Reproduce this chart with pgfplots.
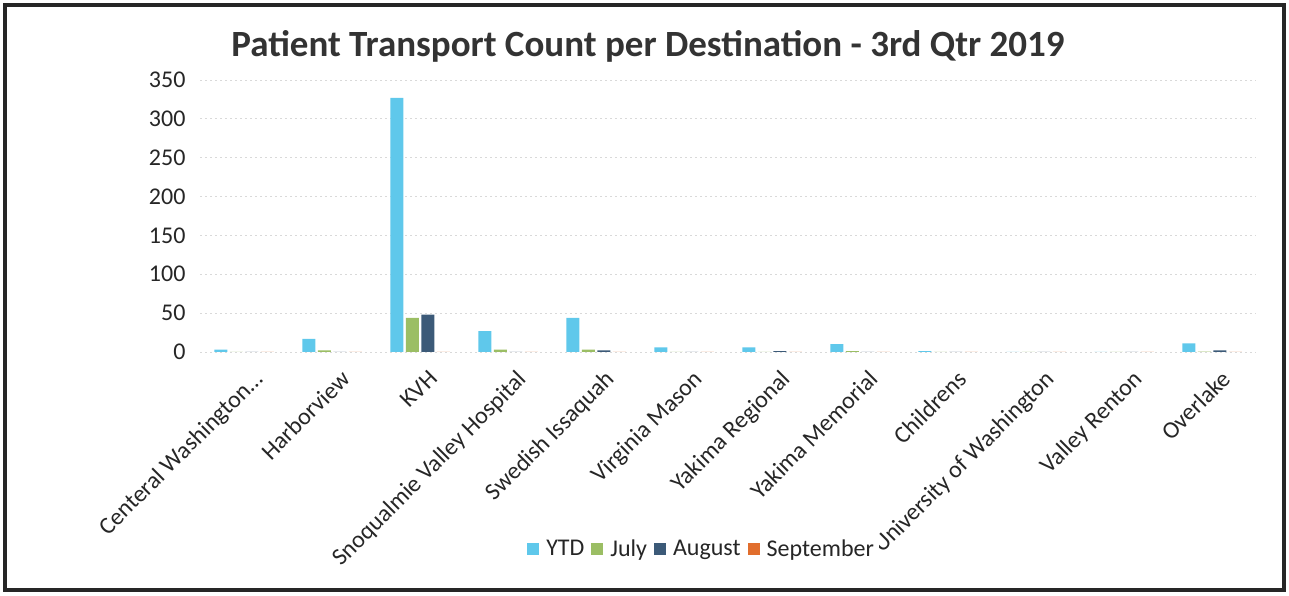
\documentclass[border=0pt]{standalone}
\usepackage{pgfplots}
\pgfplotsset{compat=1.18}
\usepackage{fontspec}
\setmainfont{Carlito}
\definecolor{cytd}{RGB}{95,200,235}
\definecolor{cjul}{RGB}{155,190,100}
\definecolor{caug}{RGB}{60,90,120}
\definecolor{csep}{RGB}{225,110,45}
\begin{document}
\begin{tikzpicture}[x=1pt,y=1pt]
\useasboundingbox (0,0) rectangle (1289,596);
\draw[line width=3.5pt, black!85] (5,6) rectangle (1284,591);
\node[anchor=base, font=\fontsize{37}{44}\selectfont\bfseries, text=black!80] at (648,539) {Patient Transport Count per Destination - 3rd Qtr 2019};
\begin{axis}[
  at={(200pt,244pt)}, anchor=south west,
  scale only axis, width=1056pt, height=272pt,
  xmin=-0.5, xmax=11.5, ymin=0, ymax=350,
  ytick={0,50,100,150,200,250,300,350},
  xtick={0,1,2,3,4,5,6,7,8,9,10,11},
  xticklabels={{Centeral Washington\ldots},Harborview,KVH,Snoqualmie Valley Hospital,Swedish Issaquah,Virginia Mason,Yakima Regional,Yakima Memorial,Childrens,University of Washington,Valley Renton,Overlake},
  axis line style={draw=none},
  major tick length=0pt,
  tick style={draw=none},
  ymajorgrids, grid style={black!15, dash pattern=on 2pt off 3pt, line width=0.8pt},
  font=\fontsize{24}{28}\selectfont,
  /pgf/number format/assume math mode=true,
  yticklabel style={text=black!85, xshift=-11pt},
  xticklabel style={xshift=8pt, yshift=-12pt, rotate=45, anchor=north east, text=black!85},
  ybar=2.5pt, bar width=13pt,
  legend style={at={(0.475,-0.724)}, anchor=center, draw=none, legend columns=4,
    font=\fontsize{24}{28}\selectfont, text=black!85,
    /tikz/every even column/.append style={column sep=5pt},
    /tikz/every odd column/.append style={column sep=5pt}},
  legend image code/.code={\fill[#1] (0pt,-6pt) rectangle (12pt,6pt);},
]
\addplot[fill=cytd, draw=none] coordinates {(0,3) (1,17) (2,327) (3,27) (4,44) (5,6) (6,6) (7,10) (8,1) (9,0) (10,0) (11,11)};
\addplot[fill=cjul, draw=none] coordinates {(0,0) (1,2) (2,44) (3,3) (4,3) (5,0) (6,0) (7,1) (8,0) (9,0) (10,0) (11,0.5)};
\addplot[fill=caug, draw=none] coordinates {(0,0) (1,0) (2,48) (3,0) (4,2) (5,0) (6,1) (7,0) (8,0) (9,0) (10,0) (11,2)};
\addplot[fill=csep, draw=none] coordinates {(0,0) (1,0) (2,0) (3,0) (4,0) (5,0) (6,0) (7,0) (8,0) (9,0) (10,0) (11,0)};
\legend{YTD,July,August,September}
\end{axis}
\end{tikzpicture}
\end{document}
